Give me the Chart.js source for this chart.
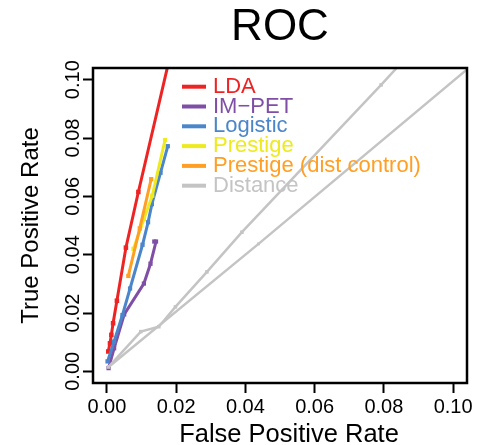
<!DOCTYPE html>
<html>
<head>
  <title>ROC</title>
  <script src="https://cdn.jsdelivr.net/npm/chart.js"></script>
  <style>
    html, body { margin: 0; padding: 0; background: #ffffff; }
    .chart-container { position: relative; width: 481px; height: 445px; }
  </style>
</head>
<body>
  <div class="chart-container">
    <canvas id="rocChart"></canvas>
  </div>

  <script>
    // axis ticks (same on both axes)
    const tickValues = [0, 0.02, 0.04, 0.06, 0.08, 0.10];
    const tickLabels = ['0.00', '0.02', '0.04', '0.06', '0.08', '0.10'];

    // false positive rate / true positive rate for each method
    const ldaFpr = [0.0004, 0.0009, 0.0013, 0.0018, 0.0029, 0.0055, 0.0091, 0.0200];
    const ldaTpr = [0.0068, 0.0096, 0.0125, 0.0165, 0.0242, 0.0424, 0.0615, 0.1170];

    const impetFpr = [0.0005, 0.0021, 0.0050, 0.0107, 0.0126, 0.0142, 0.0137];
    const impetTpr = [0.0011, 0.0079, 0.0195, 0.0301, 0.0369, 0.0445, 0.0445];

    const logisticFpr = [0.0002, 0.0021, 0.0045, 0.0067, 0.0103, 0.0119, 0.0130, 0.0155, 0.0176];
    const logisticTpr = [0.0034, 0.0102, 0.0193, 0.0284, 0.0434, 0.0511, 0.0573, 0.0681, 0.0772];

    const prestigeFpr = [0.0077, 0.0107, 0.0131, 0.0168];
    const prestigeTpr = [0.0420, 0.0522, 0.0602, 0.0793];

    const prestigeDcFpr = [0.0062, 0.0095, 0.0128];
    const prestigeDcTpr = [0.0327, 0.0490, 0.0659];

    const distanceFpr = [0.0005, 0.0098, 0.0150, 0.0198, 0.0289, 0.0390, 0.0792, 0.0860];
    const distanceTpr = [0.0015, 0.0136, 0.0153, 0.0221, 0.0341, 0.0477, 0.0982, 0.1070];

    const diagonalFpr = [0.0005, 0.0438, 0.1040];
    const diagonalTpr = [0.0015, 0.0437, 0.1035];

    const legendNames = ['LDA', 'IM\u2212PET', 'Logistic', 'Prestige', 'Prestige (dist control)', 'Distance'];
    const legendColors = ['#EE2424', '#7F4FA6', '#4A86C9', '#EEEA1E', '#FF9F24', '#C4C4C4'];

    const FONT = '"Liberation Sans", Arial, sans-serif';

    function pts(xs, ys) {
      return xs.map((x, i) => ({ x: x, y: ys[i] }));
    }

    function series(xs, ys, color, width, radius) {
      return {
        data: pts(xs, ys),
        borderColor: color,
        backgroundColor: color,
        borderWidth: width,
        pointRadius: radius,
        pointStyle: 'rect',
        pointBorderWidth: 0,
        showLine: true,
        tension: 0,
        clip: 0
      };
    }

    // box, title, x axis title and legend drawn on top of the scales
    const rocDecor = {
      id: 'rocDecor',
      afterDraw(chart) {
        const { ctx, chartArea: a } = chart;
        ctx.save();
        ctx.strokeStyle = '#000';
        ctx.lineWidth = 2.5;
        ctx.strokeRect(a.left, a.top, a.right - a.left, a.bottom - a.top);

        ctx.fillStyle = '#000';
        ctx.font = '44px ' + FONT;
        ctx.textAlign = 'center';
        ctx.textBaseline = 'alphabetic';
        ctx.fillText('ROC', (a.left + a.right) / 2, 40);

        ctx.font = '25.5px ' + FONT;
        ctx.fillText('False Positive Rate', a.left + 196, 442);

        ctx.font = '22px ' + FONT;
        ctx.textAlign = 'left';
        ctx.textBaseline = 'middle';
        ctx.lineWidth = 4;
        legendNames.forEach((name, i) => {
          const y = a.top + 18.7 + i * 19.8;
          ctx.strokeStyle = legendColors[i];
          ctx.beginPath();
          ctx.moveTo(a.left + 89, y);
          ctx.lineTo(a.left + 113, y);
          ctx.stroke();
          ctx.fillStyle = legendColors[i];
          ctx.fillText(name, a.left + 120, y);
        });
        ctx.restore();
      }
    };

    function fixedTicks(scale) {
      scale.ticks = tickValues.map(v => ({ value: v }));
    }

    const tickGrid = {
      display: true,
      drawOnChartArea: false,
      drawTicks: true,
      tickLength: 10,
      tickWidth: 2,
      tickColor: '#000'
    };

    const ctx = document.getElementById('rocChart').getContext('2d');
    const chart = new Chart(ctx, {
      type: 'scatter',
      data: {
        datasets: [
          series(diagonalFpr, diagonalTpr, legendColors[5], 2.5, 2),
          series(distanceFpr, distanceTpr, legendColors[5], 2.5, 2.5),
          series(prestigeDcFpr, prestigeDcTpr, legendColors[4], 3, 3),
          series(prestigeFpr, prestigeTpr, legendColors[3], 3, 3),
          series(logisticFpr, logisticTpr, legendColors[2], 3, 3),
          series(impetFpr, impetTpr, legendColors[1], 3, 3),
          series(ldaFpr, ldaTpr, legendColors[0], 3, 3.2)
        ]
      },
      options: {
        responsive: true,
        maintainAspectRatio: false,
        animation: false,
        layout: { padding: { top: 68, right: 14, bottom: 0, left: 0 } },
        plugins: {
          legend: { display: false },
          tooltip: { enabled: false }
        },
        scales: {
          x: {
            type: 'linear',
            min: -0.004,
            max: 0.104,
            afterBuildTicks: fixedTicks,
            afterFit: s => { s.height = 62; },
            grid: tickGrid,
            border: { display: false },
            ticks: {
              autoSkip: false,
              maxRotation: 0,
              padding: 2,
              color: '#000',
              font: { family: FONT, size: 20 },
              callback: (v, i) => tickLabels[i]
            }
          },
          y: {
            type: 'linear',
            min: -0.004,
            max: 0.104,
            afterBuildTicks: fixedTicks,
            afterFit: s => { s.width = 93; },
            grid: tickGrid,
            border: { display: false },
            ticks: {
              autoSkip: false,
              minRotation: 90,
              maxRotation: 90,
              crossAlign: 'center',
              padding: -9.5,
              color: '#000',
              font: { family: FONT, size: 20 },
              callback: (v, i) => tickLabels[i]
            },
            title: {
              display: true,
              text: 'True Positive Rate',
              color: '#000',
              font: { family: FONT, size: 24, lineHeight: 1 },
              padding: { top: 19, bottom: 0 }
            }
          }
        }
      },
      plugins: [rocDecor]
    });
  </script>
</body>
</html>
